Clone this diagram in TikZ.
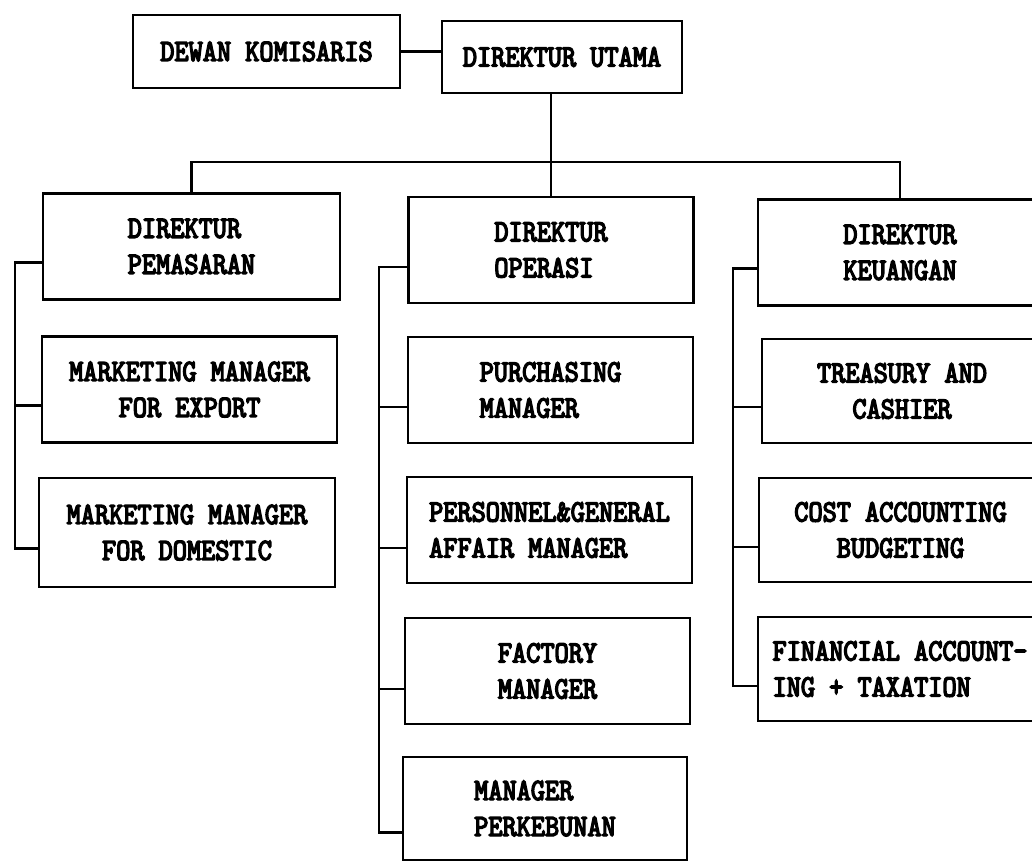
\documentclass[tikz,border=0pt]{standalone}
\usepackage{fontspec}
\newfontfamily\typefont[FakeBold=4.5,FakeStretch=0.87]{lmmono10-regular.otf}
\begin{document}
\begin{tikzpicture}[x=1pt, y=-1pt,
        box/.style={draw, line width=2.8pt, minimum width=285pt, minimum height=106pt,
            inner sep=0pt, align=center, font=\typefont\fontsize{31}{36}\selectfont},
        link/.style={line width=2.3pt}]
    \useasboundingbox (0,0) rectangle (1032,862);
    \clip (0,0) rectangle (1032,862);
    \node[box, minimum width=267pt, minimum height=73pt] (komisaris) at (266.5,51.5) {DEWAN KOMISARIS};
    \node[box, minimum width=240pt, minimum height=72pt] (utama) at (562,57) {DIREKTUR UTAMA};
    \node[box, minimum width=297pt, align=left] (pemasaran) at (191.5,246.5) {DIREKTUR\\PEMASARAN};
    \node[box, align=left] (operasi) at (551,250) {DIREKTUR\\OPERASI};
    \node[box, minimum width=284pt, align=left] (keuangan) at (900,252.5) {DIREKTUR\\KEUANGAN};
    \node[box, minimum width=295pt] (export) at (189.5,389.5) {MARKETING MANAGER\\FOR EXPORT};
    \node[box, minimum width=296pt, minimum height=109pt] (domestic) at (187,532.5) {MARKETING MANAGER\\FOR DOMESTIC};
    \node[box, align=left] (purchasing) at (550.5,390) {PURCHASING\\MANAGER};
    \node[box, align=left] (personnel) at (549.5,530) {PERSONNEL\&GENERAL\\AFFAIR MANAGER};
    \node[box, align=left] (factory) at (547.5,671) {FACTORY\\MANAGER};
    \node[box, minimum width=284pt, minimum height=103pt, align=left] (perkebunan) at (545,808.5) {MANAGER\\PERKEBUNAN};
    \node[box, minimum width=280pt, minimum height=104pt] (treasury) at (902,391) {TREASURY AND\\CASHIER};
    \node[box, minimum width=283pt, minimum height=104pt] (cost) at (900.5,530) {COST ACCOUNTING\\BUDGETING};
    \node[box, minimum width=284pt, minimum height=104pt, align=left] (financial) at (900,669) {FINANCIAL ACCOUNT-\\ING + TAXATION};
    \coordinate (bus) at (0,162);
    \coordinate (lspine) at (15,0);
    \coordinate (mspine) at (379,0);
    \coordinate (rspine) at (733,0);
    \draw[link] (komisaris.east) -- (komisaris.east -| utama.west);
    \draw[link] (operasi.north |- utama.south) -- (operasi.north);
    \draw[link] (pemasaran.north) -- (pemasaran.north |- bus) -- (keuangan.north |- bus) -- (keuangan.north);
    \foreach \n/\s in {pemasaran/16,export/16,domestic/16,operasi/17,purchasing/17,personnel/18,
            factory/18,perkebunan/24,keuangan/16,treasury/16,cost/17,financial/17}
        {
            \coordinate (\n-in) at ([yshift=-\s pt]\n.west);
        }
    \draw[link] (pemasaran-in) -- (pemasaran-in -| lspine) -- (domestic-in -| lspine) -- (domestic-in);
    \draw[link] (export-in -| lspine) -- (export-in);
    \draw[link] (operasi-in) -- (operasi-in -| mspine) -- (perkebunan-in -| mspine) -- (perkebunan-in);
    \foreach \n in {purchasing,personnel,factory}
        {
            \draw[link] (\n-in -| mspine) -- (\n-in);
        }
    \draw[link] (keuangan-in) -- (keuangan-in -| rspine) -- (financial-in -| rspine) -- (financial-in);
    \foreach \n in {treasury,cost}
        {
            \draw[link] (\n-in -| rspine) -- (\n-in);
        }
\end{tikzpicture}
\end{document}
